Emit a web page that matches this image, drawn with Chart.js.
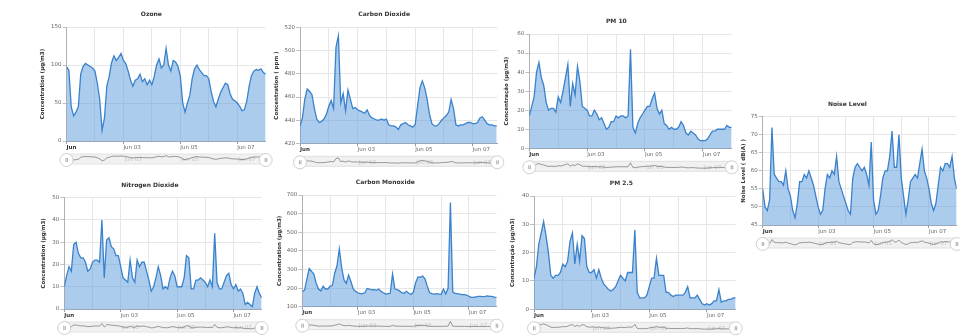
<!DOCTYPE html>
<html>
<head>
<meta charset="utf-8">
<script src="https://cdn.jsdelivr.net/npm/chart.js"></script>
<style>
  body { margin: 0; width: 960px; height: 336px; overflow: hidden; background: #fff; position: relative; }
  canvas { position: absolute; }
</style>
</head>
<body>
<script>
// hours since Jun 01 00:00, one reading every 2 hours
const hours = [0,2,4,6,8,10,12,14,16,18,20,22,24,26,28,30,32,34,36,38,40,42,44,46,48,50,52,54,56,58,
  60,62,64,66,68,70,72,74,76,78,80,82,84,86,88,90,92,94,96,98,100,102,104,106,108,110,112,114,116,118,
  120,122,124,126,128,130,132,134,136,138,140,142,144,146,148,150,152,154,156,158,160,162,164,166,168];

// day ticks (hours) and their labels
const dayTicks = [0, 24, 48, 72, 96, 120, 144];
const dayLabels = ['Jun', '', 'Jun 03', '', 'Jun 05', '', 'Jun 07'];

const ozone = [98,93,45,33,38,45,88,98,102,100,98,96,92,76,55,14,30,72,85,103,112,106,110,115,106,102,92,80,72,80,
  82,88,78,82,74,80,74,85,100,108,96,100,122,100,92,106,104,98,85,50,38,50,60,82,95,100,94,90,86,86,
  82,65,52,45,55,64,70,76,74,62,55,53,50,46,40,41,52,72,86,92,94,93,95,90,88];

const co2 = [435,442,458,467,465,462,450,441,438,439,441,445,452,457,450,503,513,455,463,448,466,458,450,451,449,448,447,446,449,444,
  442,441,440,440,441,440,441,436,435,435,434,432,436,437,438,436,435,434,436,452,468,474,468,458,445,437,435,435,437,440,
  442,444,447,458,450,436,435,436,436,437,438,438,437,437,438,442,443,440,437,436,436,435,435];

const pm10 = [17,22,27,40,45,37,33,24,20,21,21,19,27,24,30,37,44,22,34,28,43,35,22,21,20,17,17,20,18,15,
  16,13,10,11,14,14,17,16,17,17,16,17,52,11,8,13,16,18,20,22,22,26,29,21,18,20,13,12,10,11,
  10,10,11,14,12,8,7,9,8,7,5,4,4,4,5,7,9,9,10,10,10,10,12,11,11];

const noise = [55,50,49,52,72,59,58,57,57,56,60,55,53,49,47,51,57,57,59,58,60,58,56,53,50,48,49,55,59,58,
  60,59,64,57,55,53,51,49,48,58,61,62,61,60,61,59,56,68,52,48,49,53,58,60,60,64,71,61,61,70,
  58,53,48,52,57,58,59,58,62,66,60,58,55,51,49,51,56,61,60,62,62,61,64,58,55];

const no2 = [10,15,19,17,29,30,25,23,23,21,17,18,21,22,22,21,40,14,31,32,28,27,24,24,19,14,13,12,22,14,
  12,22,19,21,21,17,13,8,10,14,19,15,9,10,9,14,17,15,10,10,10,14,24,23,9,9,13,13,14,13,
  12,10,13,10,34,12,9,9,12,15,16,11,9,11,8,9,7,2,3,2,1,7,10,7,5];

const co = [180,190,250,305,290,275,225,195,185,210,195,195,210,215,280,320,410,310,245,225,270,235,195,182,175,170,170,175,198,195,
  190,192,188,195,182,175,168,170,172,275,195,192,185,175,172,183,172,166,178,230,260,258,265,250,210,175,170,168,170,168,
  165,195,168,200,660,180,172,170,168,165,165,162,156,150,150,153,155,155,154,155,158,155,155,152,150];

const pm25 = [11,15,23,27,31,26,20,12,11,12,12,13,16,15,17,24,27,16,23,17,26,25,15,13,13,14,11,14,11,9,
  8,7,6.5,7,8,10,12,11,10,13,13,13,28,6,4,4,4,5,8,11,11,18,12,12,12,6,6,5,4.5,5,
  5,5,5,6,8,4,4,4,5,3.5,2,1.5,2,1.5,2,3,3,7,2.5,3,3,3.5,3.5,4,4];

const FONT = 'DejaVu Sans';
const LINE = 'rgb(58,130,203)';
const FILL = 'rgba(96,158,222,0.52)';

// plot boxes (page pixels)
const panels = [
  { title: 'Ozone', yTitle: 'Concentration (µg/m3)', values: ozone, yMin: 0, yMax: 150, yStep: 50, xMax: 168,
    L: 66.5, T: 27, R: 265.7, B: 141, titleY: 14, yTitleX: 43 },
  { title: 'Carbon Dioxide', yTitle: 'Concentration ( ppm )', values: co2, yMin: 420, yMax: 520, yStep: 20, xMax: 164.5,
    L: 300, T: 27.7, R: 497.3, B: 143.3, titleY: 14, yTitleX: 277 },
  { title: 'PM 10', yTitle: 'Concentração (µg/m3)', values: pm10, yMin: 0, yMax: 60, yStep: 10, xMax: 168,
    L: 529.3, T: 34, R: 731.7, B: 148.3, titleY: 20.7, yTitleX: 507 },
  { title: 'Noise Level', yTitle: 'Noise Level ( dB(A) )', values: noise, yMin: 45, yMax: 75, yStep: 5, xMax: 168,
    L: 762.7, T: 116.7, R: 956.7, B: 225, titleY: 104, yTitleX: 744 },
  { title: 'Nitrogen Dioxide', yTitle: 'Concentration (µg/m3)', values: no2, yMin: 0, yMax: 50, yStep: 10, xMax: 168,
    L: 64.3, T: 197.7, R: 261.7, B: 309, titleY: 184.7, yTitleX: 44 },
  { title: 'Carbon Monoxide', yTitle: 'Concentration (µg/m3)', values: co, yMin: 100, yMax: 700, yStep: 100, xMax: 168,
    L: 302.3, T: 195, R: 496.7, B: 306.7, titleY: 182.3, yTitleX: 280 },
  { title: 'PM 2.5', yTitle: 'Concentração (µg/m3)', values: pm25, yMin: 0, yMax: 40, yStep: 10, xMax: 168,
    L: 534, T: 196, R: 735.7, B: 309.3, titleY: 182.7, yTitleX: 513 }
];

function addCanvas(left, top, w, h) {
  const c = document.createElement('canvas');
  c.width = w; c.height = h;
  c.style.left = left + 'px';
  c.style.top = top + 'px';
  document.body.appendChild(c);
  return c;
}

function setDayTicks(scale) {
  scale.ticks = dayTicks.filter(v => v <= scale.max).map(v => ({ value: v }));
}

function drawPanel(p) {
  const left = Math.round(p.yTitleX - 6);
  const top = Math.round(p.titleY - 6);
  const yw = p.L - left;
  const width = Math.round(p.R + yw) - left;   // symmetric, so the title centres on the plot
  const height = Math.round(p.B + 14) - top;
  const canvas = addCanvas(left, top, width, height);
  const points = p.values.map((v, i) => ({ x: hours[i], y: v }));

  new Chart(canvas, {
    type: 'line',
    data: { datasets: [{ data: points, borderColor: LINE, borderWidth: 1.3, backgroundColor: FILL,
      fill: 'start', pointRadius: 0, tension: 0 }] },
    options: {
      responsive: false, animation: false, devicePixelRatio: 1,
      layout: { padding: { left: 0, right: width - (p.R - left), top: 0, bottom: 0 } },
      plugins: {
        legend: { display: false },
        tooltip: { enabled: false },
        title: { display: true, text: p.title, color: '#333',
          font: { family: FONT, size: 6, weight: 'bold', lineHeight: 1.2 },
          padding: { top: 2.4, bottom: (p.T - top) - 2.4 - 7.2 } }
      },
      scales: {
        x: {
          type: 'linear', min: 0, max: p.xMax,
          afterBuildTicks: setDayTicks,
          afterFit: s => { s.height = height - (p.B - top); },
          grid: { color: '#e6e6e6', drawTicks: true, tickLength: 3,
            tickColor: c => (c.index % 2 === 0 ? '#8c9bb0' : 'rgba(0,0,0,0)') },
          border: { color: '#9aa7b9', width: 1 },
          ticks: {
            autoSkip: false, maxRotation: 0, align: 'start', padding: 0,
            callback: (v, i) => dayLabels[i],
            color: c => (c.index === 0 ? '#333' : '#666'),
            font: c => ({ family: FONT, size: 5.5, weight: c.index === 0 ? 'bold' : 'normal' })
          }
        },
        y: {
          min: p.yMin, max: p.yMax,
          afterFit: s => { s.width = yw; },
          grid: { color: '#e6e6e6', tickLength: 4, tickColor: '#c0c0c0' },
          border: { color: '#b0b0b0', width: 1 },
          ticks: { stepSize: p.yStep, padding: 1, color: '#666', font: { family: FONT, size: 5.5 } },
          title: { display: true, text: p.yTitle, color: '#333',
            font: { family: FONT, size: 5.5, weight: 'bold', lineHeight: 1.2 },
            padding: { top: 2.7, bottom: 0 } }
        }
      }
    }
  });

  // navigator strip under the plot
  const bandTop = p.B + 13, bandH = 10;
  const nl = Math.round(p.L - 12), nt = Math.round(bandTop - 4);
  const nw = Math.round(p.R + 12) - nl, nh = bandH + 13;
  const nav = addCanvas(nl, nt, nw, nh);
  const lo = Math.min(...p.values), hi = Math.max(...p.values);

  const navDecor = {
    id: 'navDecor',
    beforeDraw(chart) {
      const a = chart.chartArea, ctx = chart.ctx;
      ctx.save();
      ctx.beginPath();
      ctx.roundRect(a.left - 6, a.top, a.right - a.left + 9, a.bottom - a.top, 5);
      ctx.fillStyle = '#f1f1f1';
      ctx.fill();
      ctx.strokeStyle = '#e2e2e2';
      ctx.lineWidth = 1;
      ctx.stroke();
      ctx.restore();
    },
    beforeDatasetsDraw(chart) {
      const a = chart.chartArea, ctx = chart.ctx, xs = chart.scales.x;
      ctx.save();
      ctx.fillStyle = '#c4c4c4';
      ctx.font = '5.5px "' + FONT + '"';
      ctx.textBaseline = 'middle';
      dayTicks.forEach((v, i) => {
        if (i > 0 && dayLabels[i] && v <= p.xMax) ctx.fillText(dayLabels[i], xs.getPixelForValue(v) + 1, (a.top + a.bottom) / 2 + 1);
      });
      ctx.restore();
    },
    afterDraw(chart) {
      const a = chart.chartArea, ctx = chart.ctx;
      const cy = (a.top + a.bottom) / 2 + 1;
      ctx.save();
      [a.left, a.right].forEach(cx => {
        ctx.beginPath();
        ctx.arc(cx, cy, 6.5, 0, Math.PI * 2);
        ctx.fillStyle = '#fff';
        ctx.fill();
        ctx.strokeStyle = '#d0d0d0';
        ctx.lineWidth = 1;
        ctx.stroke();
        ctx.beginPath();
        ctx.moveTo(cx - 0.5, cy - 2); ctx.lineTo(cx - 0.5, cy + 2);
        ctx.moveTo(cx + 1, cy - 2); ctx.lineTo(cx + 1, cy + 2);
        ctx.strokeStyle = '#aaa';
        ctx.stroke();
      });
      ctx.restore();
    }
  };

  new Chart(nav, {
    type: 'line',
    data: { datasets: [{ data: points, borderColor: '#808080', borderWidth: 0.8, fill: false, pointRadius: 0, tension: 0 }] },
    options: {
      responsive: false, animation: false, devicePixelRatio: 1,
      layout: { padding: { left: p.L - nl, right: nw - (p.R - nl), top: bandTop - nt, bottom: nh - (bandTop + bandH - nt) } },
      plugins: { legend: { display: false }, tooltip: { enabled: false } },
      scales: {
        x: { type: 'linear', min: 0, max: p.xMax, display: false },
        y: { display: false, min: lo - (hi - lo) * 0.6, max: hi + (hi - lo) * 0.3 }
      }
    },
    plugins: [navDecor]
  });
}

panels.forEach(drawPanel);
</script>
</body>
</html>
